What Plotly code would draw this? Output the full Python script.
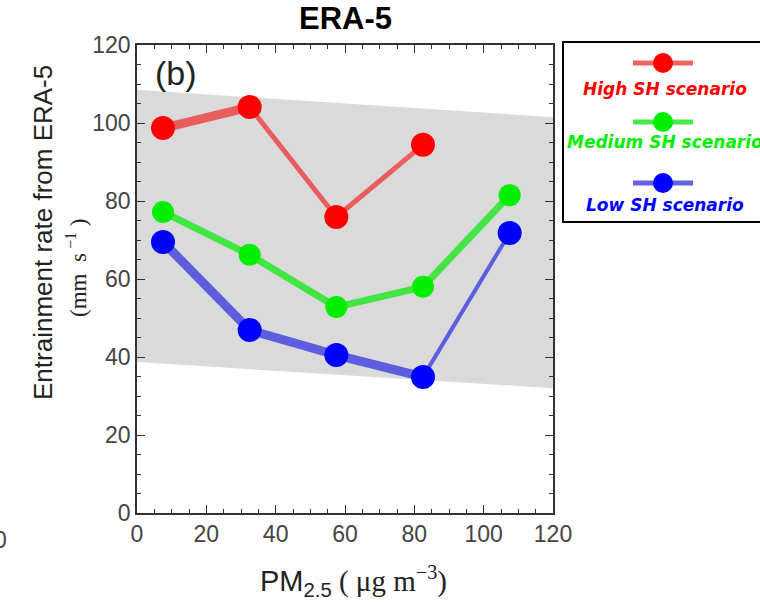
import plotly.graph_objects as go

# ---- data ----
pm25 = [7.5, 32.5, 57.5, 82.5, 107.5]
high_sh = [98.7, 104.1, 75.9, 94.4, None]
medium_sh = [77.2, 66.2, 52.8, 58.0, 81.5]
low_sh = [69.5, 46.9, 40.5, 34.9, 71.8]
band_x = [0, 120, 120, 0]
band_y = [108.5, 101.5, 32.0, 38.7]
x_ticks = [0, 20, 40, 60, 80, 100, 120]
y_ticks = [0, 20, 40, 60, 80, 100, 120]

series = [
    ("High SH scenario", high_sh, "#ff0000", "rgba(235,70,70,0.85)", [9, 5, 5, 5], 24),
    ("Medium SH scenario", medium_sh, "#00ee00", "rgba(40,230,40,0.85)", [7, 7, 7, 7], 22),
    ("Low SH scenario", low_sh, "#0000ff", "rgba(70,70,225,0.85)", [9, 9, 9, 4], 24),
]

W, H = 760, 602
L, R, T, B = 137, 0, 45, 89
PW = W - L - R
PH = H - T - B
XDOM = (553 - L) / PW


def px_x(px):
    return (px - L) / PW


def px_y(py):
    return (H - B - py) / PH


fig = go.Figure()

fig.add_trace(go.Scatter(x=band_x, y=band_y, fill="toself", mode="lines",
                         line=dict(width=0), fillcolor="#dadada",
                         hoverinfo="skip", showlegend=False))

for name, vals, mcol, lcol, widths, msize in series:
    for i in range(len(pm25) - 1):
        if vals[i] is None or vals[i + 1] is None:
            continue
        fig.add_trace(go.Scatter(x=pm25[i:i + 2], y=vals[i:i + 2], mode="lines",
                                 line=dict(color=lcol, width=widths[i]),
                                 showlegend=False, hoverinfo="skip"))
    fig.add_trace(go.Scatter(x=pm25, y=vals, mode="markers", name=name,
                             marker=dict(color=mcol, size=msize), showlegend=False))

# custom legend
LX0, LX1 = px_x(563), 1.0
LY0, LY1 = px_y(222), 1.0
leg_y = [63, 122, 183]
txt_y = [89, 142, 205]
py_bottom = H - B - LY0 * PH


def lx(px):
    return (px - 563) / (760 - 563)


def ly(py):
    return (py_bottom - py) / (py_bottom - T)


for (name, vals, mcol, lcol, widths, msize), sy, ty in zip(series, leg_y, txt_y):
    fig.add_trace(go.Scatter(x=[lx(633), lx(693)], y=[ly(sy), ly(sy)], mode="lines",
                             line=dict(color=lcol, width=5), xaxis="x2", yaxis="y2",
                             showlegend=False, hoverinfo="skip"))
    fig.add_trace(go.Scatter(x=[lx(663)], y=[ly(sy)], mode="markers",
                             marker=dict(color=mcol, size=20), xaxis="x2", yaxis="y2",
                             showlegend=False, hoverinfo="skip"))
    fig.add_annotation(x=lx(665), y=ly(ty), xref="x2", yref="y2", text="<b><i>%s</i></b>" % name,
                       showarrow=False, font=dict(family="DejaVu Sans", size=17, color=mcol),
                       xanchor="center", yanchor="middle")

fig.add_shape(type="rect", xref="paper", yref="paper", x0=LX0, x1=1.02, y0=LY0, y1=px_y(42),
              line=dict(color="black", width=2), fillcolor="rgba(0,0,0,0)")

axis_common = dict(showgrid=False, zeroline=False, showline=True, linecolor="#333",
                   linewidth=1.5, mirror="ticks", ticks="inside", ticklen=8, tickwidth=1.3,
                   tickcolor="#333", tickfont=dict(family="Arial", size=23, color="#444"),
                   automargin=False,
                   minor=dict(dtick=5, ticks="inside", ticklen=4, tickcolor="#333", tickwidth=1))

fig.update_layout(
    width=W, height=H, autosize=False,
    margin=dict(l=L, r=R, t=T, b=B, pad=0),
    paper_bgcolor="white", plot_bgcolor="white",
    xaxis=dict(domain=[0, XDOM], range=[0, 120], tickvals=x_ticks, **axis_common),
    yaxis=dict(range=[0, 120], tickvals=y_ticks, **axis_common),
    xaxis2=dict(domain=[LX0, LX1], range=[0, 1], visible=False, anchor="y2", automargin=False),
    yaxis2=dict(domain=[LY0, LY1], range=[0, 1], visible=False, anchor="x2", automargin=False),
)

fig.add_annotation(x=px_x(345), y=px_y(19), xref="paper", yref="paper", text="<b>ERA-5</b>",
                   showarrow=False, font=dict(family="Arial", size=31, color="black"),
                   xanchor="center", yanchor="middle")
fig.add_annotation(x=px_x(353), y=px_y(581), xref="paper", yref="paper",
                   text="PM<sub>2.5</sub><span style='font-family:Liberation Serif'> (&nbsp;μg&nbsp;m<sup>−3</sup>)</span>",
                   showarrow=False, font=dict(family="Arial", size=29, color="#222"),
                   xanchor="center", yanchor="middle")
fig.add_annotation(x=px_x(43), y=px_y(233), xref="paper", yref="paper",
                   text="Entrainment rate from ERA-5", textangle=-90,
                   showarrow=False, font=dict(family="Arial", size=26, color="#222"),
                   xanchor="center", yanchor="middle")
fig.add_annotation(x=px_x(76), y=px_y(268), xref="paper", yref="paper",
                   text="(mm&nbsp;&nbsp;s<sup>&nbsp;−1</sup>&nbsp;)", textangle=-90,
                   showarrow=False, font=dict(family="Liberation Serif", size=23, color="#222"),
                   xanchor="center", yanchor="middle")
fig.add_annotation(x=px_x(153), y=px_y(73), xref="paper", yref="paper", text="(b)", showarrow=False,
                   font=dict(family="Arial", size=34, color="#222"), xanchor="left", yanchor="middle")
fig.add_annotation(x=px_x(9), y=px_y(540), xref="paper", yref="paper", text="0", showarrow=False,
                   font=dict(family="Arial", size=23, color="#444"), xanchor="right", yanchor="middle")

fig.write_html("out.html")
